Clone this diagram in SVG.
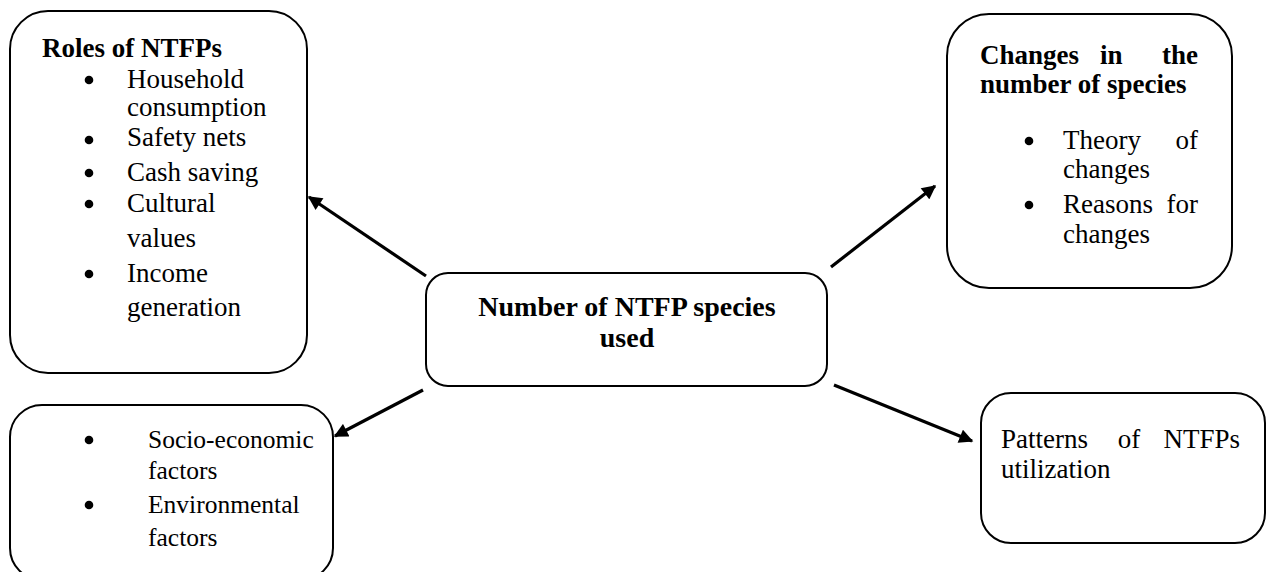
<svg xmlns="http://www.w3.org/2000/svg" width="1266" height="572" viewBox="0 0 1266 572">
<defs>
<style>
.box{fill:#fff;stroke:#000;stroke-width:2}
.t{font-family:"Liberation Serif","Times New Roman",serif;font-size:27px;fill:#000}
.s{font-size:25.5px}
.b{font-weight:bold}
.dot{fill:#000}
.conn line{stroke:#000;stroke-width:3.2}
</style>
<marker id="ah" viewBox="0 0 10 10" refX="9" refY="5" markerWidth="4.6" markerHeight="4.4" orient="auto" markerUnits="strokeWidth">
<path d="M0,0 L10,5 L0,10 z" fill="#000"/>
</marker>
</defs>
<rect width="1266" height="572" fill="#fff"/>

<g id="connectors" class="conn">
<line x1="426" y1="276" x2="309" y2="197" marker-end="url(#ah)"/>
<line x1="831" y1="267" x2="935" y2="186" marker-end="url(#ah)"/>
<line x1="423" y1="390" x2="335" y2="436" marker-end="url(#ah)"/>
<line x1="834" y1="385" x2="972" y2="441" marker-end="url(#ah)"/>
</g>

<g id="node-roles">
<rect class="box" x="10" y="11" width="297" height="362" rx="38"/>
<text class="t b" x="42" y="57">Roles of NTFPs</text>
<circle class="dot" cx="89" cy="80" r="4.3"/>
<circle class="dot" cx="89" cy="140" r="4.3"/>
<circle class="dot" cx="89" cy="173" r="4.3"/>
<circle class="dot" cx="89" cy="204" r="4.3"/>
<circle class="dot" cx="89" cy="274" r="4.3"/>
<g class="t">
<text x="127" y="88">Household</text>
<text x="127" y="116">consumption</text>
<text x="127" y="146">Safety nets</text>
<text x="127" y="181">Cash saving</text>
<text x="127" y="212">Cultural</text>
<text x="127" y="247">values</text>
<text x="127" y="282">Income</text>
<text x="127" y="316">generation</text>
</g>
</g>

<g id="node-changes">
<rect class="box" x="947" y="14" width="285" height="274" rx="42"/>
<text class="t b" y="64"><tspan x="980">Changes</tspan><tspan x="1100">in</tspan><tspan x="1198" text-anchor="end">the</tspan></text>
<text class="t b" x="980" y="93">number of species</text>
<circle class="dot" cx="1029" cy="141" r="4.3"/>
<circle class="dot" cx="1029" cy="205" r="4.3"/>
<g class="t">
<text y="149"><tspan x="1063">Theory</tspan><tspan x="1198" text-anchor="end">of</tspan></text>
<text x="1063" y="178">changes</text>
<text y="213"><tspan x="1063">Reasons</tspan><tspan x="1198" text-anchor="end">for</tspan></text>
<text x="1063" y="243">changes</text>
</g>
</g>

<g id="node-center">
<rect class="box" x="426" y="273" width="401" height="113" rx="22"/>
<text class="t b" x="627" y="316" text-anchor="middle" style="font-size:28px">Number of NTFP species</text>
<text class="t b" x="627" y="347" text-anchor="middle" style="font-size:28px">used</text>
</g>

<g id="node-factors">
<rect class="box" x="10" y="405" width="323" height="175" rx="32"/>
<circle class="dot" cx="89" cy="440" r="4.3"/>
<circle class="dot" cx="89" cy="505" r="4.3"/>
<g class="t s">
<text x="148" y="448">Socio-economic</text>
<text x="148" y="479">factors</text>
<text x="148" y="513">Environmental</text>
<text x="148" y="546">factors</text>
</g>
</g>

<g id="node-patterns">
<rect class="box" x="981" y="393" width="284" height="150" rx="30"/>
<g class="t">
<text y="448"><tspan x="1001">Patterns</tspan><tspan x="1129" text-anchor="middle">of</tspan><tspan x="1240" text-anchor="end">NTFPs</tspan></text>
<text x="1001" y="478">utilization</text>
</g>
</g>
</svg>
